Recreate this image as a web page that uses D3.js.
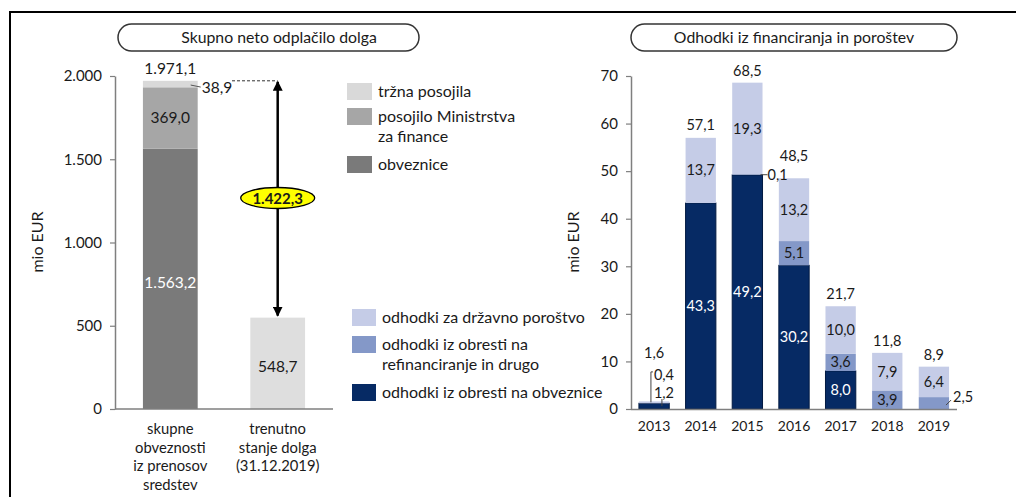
<!DOCTYPE html>
<html><head><meta charset="utf-8">
<script src="https://cdn.jsdelivr.net/npm/d3@7"></script>
<style>
body{margin:0;background:#fff;}
svg text{font-family:Lato,"Open Sans",sans-serif;fill:#1a1a1a;}
</style></head>
<body><svg id="c" width="1016" height="497"></svg>
<script>
// ---------- data: left chart ----------
const leftCats = ["skupne|obveznosti|iz prenosov|sredstev", "trenutno|stanje dolga|(31.12.2019)"];
const leftSeries = ["obveznice", "posojilo Ministrstva|za finance", "tržna posojila"];
const leftObveznice = [1563.2, 0];
const leftPosojiloMF = [369.0, 0];
const leftTrzna = [38.9, 548.7];
const leftTotals = [1971.1, 548.7];
const leftDifference = 1422.3;
const leftTicks = [0, 500, 1000, 1500, 2000];

// ---------- data: right chart ----------
const years = ["2013", "2014", "2015", "2016", "2017", "2018", "2019"];
const obrestiObveznice = [1.2, 43.3, 49.2, 30.2, 8.0, 0, 0];
const obrestiRefin = [0, 0, 0.1, 5.1, 3.6, 3.9, 2.5];
const porostvo = [0.4, 13.7, 19.3, 13.2, 10.0, 7.9, 6.4];
const rightTotals = [1.6, 57.1, 68.5, 48.5, 21.7, 11.8, 8.9];
const rightTicks = [0, 10, 20, 30, 40, 50, 60, 70];
const rightSeries = ["odhodki  za državno poroštvo", "odhodki  iz obresti na|refinanciranje in drugo", "odhodki  iz obresti na obveznice"];

const loc = d3.formatLocale({decimal: ",", thousands: ".", grouping: [3], currency: ["", " €"]});
const fmt1 = loc.format(",.1f");
const fmtT = loc.format(",.0f");

const svg = d3.select("#c");

// outer frame
svg.append("path").attr("d", "M10,497 V12 H1016").attr("fill", "none").attr("stroke", "#000").attr("stroke-width", 2);

function pill(x0, x1, y0, y1, label, tx) {
  const h = y1 - y0;
  svg.append("rect").attr("x", x0).attr("y", y0).attr("width", x1 - x0).attr("height", h)
    .attr("rx", h / 2).attr("ry", h / 2).attr("fill", "#fff").attr("stroke", "#333").attr("stroke-width", 1.5);
  svg.append("text").attr("x", tx).attr("y", (y0 + y1) / 2 + 5.5).attr("text-anchor", "middle")
    .attr("font-size", 15.8).text(label);
}
function multiText(g, x, y, str, lh, anchor, size) {
  const t = g.append("text").attr("x", x).attr("y", y).attr("text-anchor", anchor || "start").attr("font-size", size || 14);
  str.split("|").forEach((s, i) => t.append("tspan").attr("x", x).attr("dy", i === 0 ? 0 : lh).text(s));
  return t;
}
function styleAxis(g, fs) {
  g.select(".domain").attr("stroke", "#7f7f7f").attr("stroke-width", 1.5);
  g.selectAll(".tick line").attr("stroke", "#7f7f7f").attr("stroke-width", 1.2);
  g.selectAll(".tick text").attr("font-size", fs).attr("fill", "#1a1a1a").attr("font-family", "Lato,sans-serif");
}

// ================= LEFT CHART =================
pill(118, 419, 24, 51, "Skupno  neto odplačilo dolga", 279);

const xL = d3.scaleBand().domain(leftCats).range([115, 333]).paddingInner(0.49).paddingOuter(0.26);
const yL = d3.scaleLinear().domain([0, 2000]).range([409, 76]);
const leftColors = ["#7a7a7a", "#a6a6a6", "#d9d9d9"];
const leftStackData = leftCats.map((c, i) => ({cat: c, s0: leftObveznice[i], s1: leftPosojiloMF[i], s2: leftTrzna[i]}));
const leftStack = d3.stack().keys(["s0", "s1", "s2"])(leftStackData);

const gL = svg.append("g");
leftStack.forEach((layer, li) => {
  gL.selectAll(null).data(layer).join("rect")
    .attr("x", d => xL(d.data.cat)).attr("width", xL.bandwidth())
    .attr("y", d => yL(d[1])).attr("height", d => yL(d[0]) - yL(d[1]))
    .attr("fill", (d, i) => (li === 2 && i === 1) ? "#dedede" : leftColors[li]);
});

const yAxL = svg.append("g").attr("transform", "translate(115,0)")
  .call(d3.axisLeft(yL).tickValues(leftTicks).tickFormat(fmtT).tickSize(5).tickSizeOuter(0).tickPadding(8));
styleAxis(yAxL, 15);
svg.append("line").attr("x1", 115).attr("x2", 333).attr("y1", yL(0)).attr("y2", yL(0)).attr("stroke", "#7f7f7f").attr("stroke-width", 1.5);

// segment labels
const LF = 15.5;
const c0 = xL(leftCats[0]) + xL.bandwidth() / 2, c1 = xL(leftCats[1]) + xL.bandwidth() / 2;
gL.append("text").attr("x", c0).attr("y", yL(leftObveznice[0] / 2) + 9).attr("text-anchor", "middle").attr("font-size", LF)
  .style("fill", "#fff").text(fmt1(leftObveznice[0]));
gL.append("text").attr("x", c0).attr("y", yL(leftObveznice[0] + leftPosojiloMF[0] / 2) + 5).attr("text-anchor", "middle").attr("font-size", LF)
  .text(fmt1(leftPosojiloMF[0]));
gL.append("text").attr("x", c0).attr("y", yL(leftTotals[0]) - 7).attr("text-anchor", "middle").attr("font-size", LF)
  .text(fmt1(leftTotals[0]));
gL.append("text").attr("x", c1).attr("y", yL(leftTrzna[1] / 2) + 9).attr("text-anchor", "middle").attr("font-size", LF)
  .text(fmt1(leftTrzna[1]));
// 38,9 leader
const bx1 = xL(leftCats[0]) + xL.bandwidth();
const y389 = yL(leftObveznice[0] + leftPosojiloMF[0] + leftTrzna[0] / 2);
gL.append("line").attr("x1", bx1 - 7).attr("y1", y389 + 1).attr("x2", bx1 + 3).attr("y2", y389 + 3).attr("stroke", "#555");
gL.append("text").attr("x", bx1 + 4).attr("y", y389 + 9).attr("font-size", LF).text(fmt1(leftTrzna[0]));

// dashed line and arrow
const yTop = yL(leftTotals[0]), yBot = yL(leftTotals[1]);
gL.append("line").attr("x1", 232).attr("x2", c1).attr("y1", yTop).attr("y2", yTop)
  .attr("stroke", "#333").attr("stroke-dasharray", "3,2").attr("stroke-width", 1);
svg.append("defs").append("marker").attr("id", "ah").attr("viewBox", "0 0 10 10").attr("refX", 9).attr("refY", 5)
  .attr("markerWidth", 4).attr("markerHeight", 4).attr("orient", "auto-start-reverse")
  .append("path").attr("d", "M0,0 L10,5 L0,10 z").attr("fill", "#000");
gL.append("line").attr("x1", c1).attr("x2", c1).attr("y1", yTop + 1).attr("y2", yBot - 2)
  .attr("stroke", "#000").attr("stroke-width", 2.5)
  .attr("marker-start", "url(#ah)").attr("marker-end", "url(#ah)");
gL.append("ellipse").attr("cx", c1).attr("cy", 198).attr("rx", 37).attr("ry", 10.5)
  .attr("fill", "#ffff00").attr("stroke", "#000").attr("stroke-width", 1.3);
gL.append("text").attr("x", c1).attr("y", 203.5).attr("text-anchor", "middle").attr("font-size", 15).attr("font-weight", "bold")
  .text(fmt1(leftDifference));

// x labels
leftCats.forEach(c => multiText(gL, xL(c) + xL.bandwidth() / 2, 434, c, 18.5, "middle", 14.8));
// y title
svg.append("text").attr("transform", "translate(43,242) rotate(-90)").attr("text-anchor", "middle").attr("font-size", 16).text("mio EUR");

// legend left
const legL = svg.append("g");
const legLItems = [{c: leftColors[2], t: leftSeries[2], y: 83}, {c: leftColors[1], t: leftSeries[1], y: 108}, {c: leftColors[0], t: leftSeries[0], y: 156}];
legLItems.forEach(d => {
  legL.append("rect").attr("x", 347).attr("y", d.y).attr("width", 25).attr("height", 17).attr("fill", d.c);
  multiText(legL, 378, d.y + 14, d.t, 20, "start", 16);
});

// ================= RIGHT CHART =================
pill(631, 957, 24, 51, "Odhodki  iz financiranja in poroštev", 794);

const xR = d3.scaleBand().domain(years).range([631, 957]).paddingInner(0.35).paddingOuter(0.17);
const yR = d3.scaleLinear().domain([0, 70]).range([409, 76]);
const rightColors = ["#062a64", "#8498c8", "#c5cce7"];
const rData = years.map((y, i) => ({year: y, a: obrestiObveznice[i], b: obrestiRefin[i], c: porostvo[i]}));
const rStack = d3.stack().keys(["a", "b", "c"])(rData);
const gR = svg.append("g");
rStack.forEach((layer, li) => {
  gR.selectAll(null).data(layer).join("rect")
    .attr("x", d => xR(d.data.year)).attr("width", xR.bandwidth())
    .attr("y", d => yR(d[1])).attr("height", d => Math.max(0, yR(d[0]) - yR(d[1])))
    .attr("fill", rightColors[li])
    .attr("stroke", li === 0 ? "#021a42" : "none").attr("stroke-width", li === 0 ? 1 : 0);
});
const yAxR = svg.append("g").attr("transform", "translate(631,0)")
  .call(d3.axisLeft(yR).tickValues(rightTicks).tickSize(5).tickSizeOuter(0).tickPadding(8));
styleAxis(yAxR, 15);
const xAxR = svg.append("g").attr("transform", "translate(0,409)")
  .call(d3.axisBottom(xR).tickSize(0).tickSizeOuter(0).tickPadding(12));
styleAxis(xAxR, 14);
xAxR.select(".domain").attr("d", "M631,0.5H957");

// labels on right
const RF = 14.5;
const cx = y => xR(y) + xR.bandwidth() / 2;
years.forEach((y, i) => {
  const off = i === 0 ? 43 : (i === 3 ? 17 : 7);
  gR.append("text").attr("x", cx(y)).attr("y", yR(rightTotals[i]) - off).attr("text-anchor", "middle").attr("font-size", RF)
    .text(fmt1(rightTotals[i]));
  if (i === 0) return;
  if (obrestiObveznice[i] > 0) {
    gR.append("text").attr("x", cx(y)).attr("y", yR(obrestiObveznice[i] / 2) + 5).attr("text-anchor", "middle").attr("font-size", RF)
      .style("fill", "#fff").text(fmt1(obrestiObveznice[i]));
  }
  if (obrestiRefin[i] >= 1 && i !== 6) {
    gR.append("text").attr("x", cx(y)).attr("y", yR(obrestiObveznice[i] + obrestiRefin[i] / 2) + 5).attr("text-anchor", "middle").attr("font-size", RF)
      .text(fmt1(obrestiRefin[i]));
  }
  gR.append("text").attr("x", cx(y)).attr("y", yR(obrestiObveznice[i] + obrestiRefin[i] + porostvo[i] / 2) + 5).attr("text-anchor", "middle").attr("font-size", RF)
    .text(fmt1(porostvo[i]));
});
// 2013 leaders
const x13 = xR("2013");
gR.append("path").attr("d", `M${x13 + 12},${yR(obrestiObveznice[0] + porostvo[0] / 2)} V${yR(7.8)} H${x13 + 14}`).attr("fill", "none").attr("stroke", "#444");
gR.append("text").attr("x", x13 + 15).attr("y", yR(7.8) + 8).attr("font-size", RF).text(fmt1(porostvo[0]));
gR.append("line").attr("x1", x13 + 23).attr("x2", x13 + 23).attr("y1", yR(obrestiObveznice[0] / 2)).attr("y2", yR(2.1)).attr("stroke", "#444");
gR.append("text").attr("x", x13 + 15).attr("y", yR(3.6) + 6).attr("font-size", RF).text(fmt1(obrestiObveznice[0]));
// 2015 0,1 leader
const x15r = xR("2015") + xR.bandwidth();
const y01 = yR(obrestiObveznice[2] + obrestiRefin[2] / 2);
gR.append("line").attr("x1", x15r - 2).attr("x2", x15r + 5).attr("y1", y01).attr("y2", y01).attr("stroke", "#444");
gR.append("text").attr("x", x15r + 5).attr("y", y01 + 5).attr("font-size", RF).text(fmt1(obrestiRefin[2]));
// 2019 2,5 leader
const x19r = xR("2019") + xR.bandwidth();
const y25 = yR(obrestiRefin[6] / 2);
gR.append("line").attr("x1", x19r - 3).attr("y1", y25 + 2).attr("x2", x19r + 2).attr("y2", y25 - 3).attr("stroke", "#444");
gR.append("text").attr("x", x19r + 4).attr("y", y25 - 1).attr("font-size", RF).text(fmt1(obrestiRefin[6]));

svg.append("text").attr("transform", "translate(579,242) rotate(-90)").attr("text-anchor", "middle").attr("font-size", 16).text("mio EUR");

// legend right
const legR = svg.append("g");
const legRItems = [{c: rightColors[2], t: rightSeries[0], y: 309}, {c: rightColors[1], t: rightSeries[1], y: 336}, {c: rightColors[0], t: rightSeries[2], y: 384}];
legRItems.forEach(d => {
  legR.append("rect").attr("x", 352).attr("y", d.y).attr("width", 24).attr("height", 17).attr("fill", d.c);
  multiText(legR, 382, d.y + 14, d.t, 20, "start", 16);
});
</script></body></html>
